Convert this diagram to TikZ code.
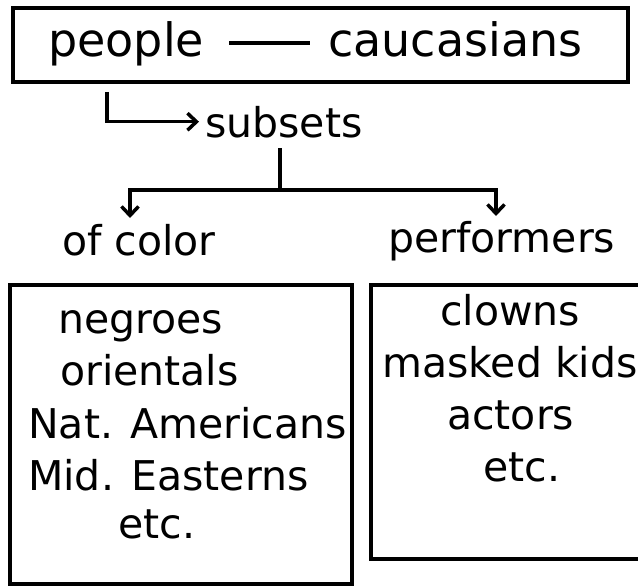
\documentclass[tikz,border=0pt]{standalone}
\usepackage{fontspec}
\setmainfont{DejaVu Sans}
\usetikzlibrary{arrows.meta}
\tikzset{
	lbl/.style={anchor=base west, inner sep=0pt, font=\fontsize{41}{49}\selectfont},
	toplbl/.style={anchor=base west, inner sep=0pt, font=\fontsize{46}{55}\selectfont},
	arr/.style={line width=3.2pt, -{Straight Barb[length=9pt, width=17pt, line width=3.5pt]}}
}

\begin{document}
\begin{tikzpicture}[x=1pt, y=-1pt]
			%%%%% START %%%%%
			\useasboundingbox (0, 0) rectangle (638, 586);
			
			\draw[line width=3.8pt] (13, 8) rectangle (628, 82);
			\node[toplbl] (people) at (48, 57) {people};
			\node[toplbl] (caucasians) at (328, 57) {caucasians};
			\draw[line width=3.2pt] ([xshift=25pt]people.east |- 0, 43) -- ([xshift=-18pt]caucasians.west |- 0, 43);
			
			\node[lbl] (subsets) at (205, 137) {subsets};
			\coordinate (corner) at (107, 92);
			\draw[arr] (corner) |- ([xshift=-6pt]subsets.west);
			
			\coordinate (stem) at (280, 148);
			\coordinate (fork) at (280, 190);
			\coordinate (lefttip) at (130, 218);
			\coordinate (righttip) at (496, 216);
			\draw[line width=3.2pt] (stem) -- (fork);
			\draw[arr] (fork) -| (lefttip);
			\draw[arr] (fork) -| (righttip);
			
			\node[lbl] (ofcolor) at (62, 255) {of color};
			\node[lbl] (performers) at (388, 252) {performers};
			
			\draw[line width=3.8pt] (10, 285) rectangle (352, 584);
			\draw[line width=3.8pt] (371, 285) rectangle (650, 559);
			
			\node[lbl] (negroes) at (58, 333) {negroes};
			\node[lbl] (orientals) at (60, 385) {orientals};
			\node[lbl] (natam) at (28, 438) {Nat. Americans};
			\node[lbl] (mideast) at (28, 490) {Mid. Easterns};
			\node[lbl] (etcleft) at (118, 538) {etc.};
			
			\node[lbl] (clowns) at (440, 325) {clowns};
			\node[lbl] (masked) at (382, 377) {masked kids};
			\node[lbl] (actors) at (447, 429) {actors};
			\node[lbl] (etcright) at (483, 481) {etc.};
			%%%%% END %%%%%
\end{tikzpicture}
\end{document}
